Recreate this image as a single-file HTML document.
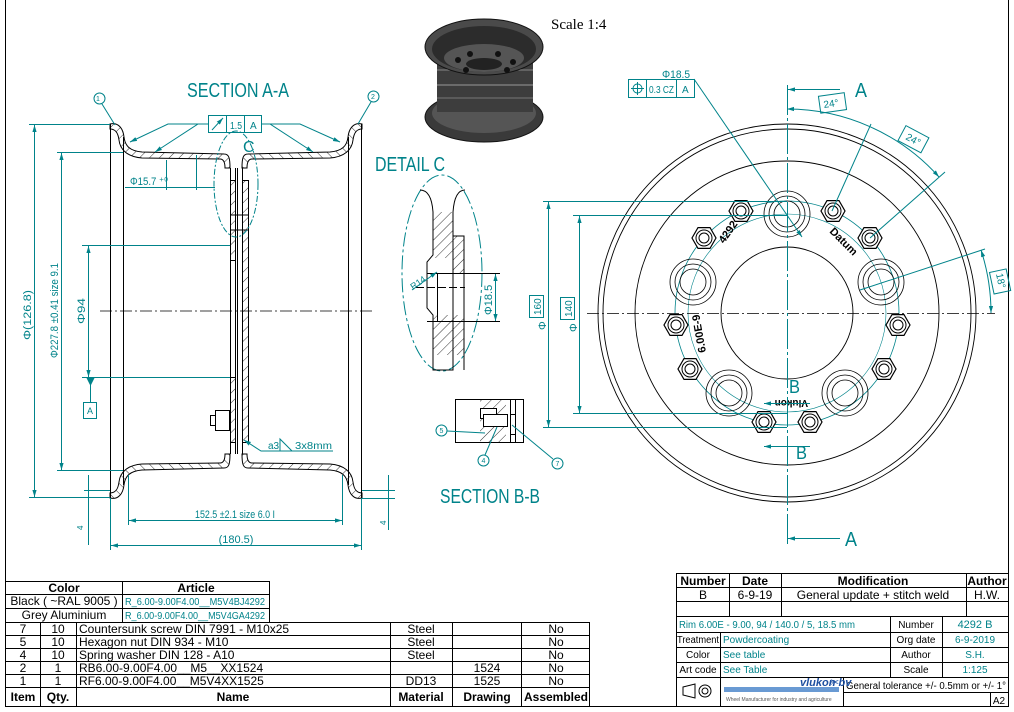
<!DOCTYPE html>
<html><head><meta charset="utf-8"><style>
html,body{margin:0;padding:0;background:#fff;}
svg{display:block;font-family:"Liberation Sans",sans-serif;}
.t{fill:#00838a;}
.tl{stroke:#00838a;fill:none;stroke-width:1;}
.bl{stroke:#000;fill:none;stroke-width:1;}
.cell{font-size:12px;fill:#000;}
</style></head><body>
<svg width="1014" height="712" viewBox="0 0 1014 712" xmlns="http://www.w3.org/2000/svg">
<defs>
<pattern id="h" width="7" height="7" patternUnits="userSpaceOnUse" patternTransform="rotate(45)">
<line x1="0" y1="0" x2="0" y2="7" stroke="#000" stroke-width="0.8"/></pattern>
<marker id="ar" viewBox="0 0 10 10" refX="10" refY="5" markerWidth="7" markerHeight="7" orient="auto-start-reverse"><path d="M0,2 L10,5 L0,8 Z" fill="#00838a"/></marker>
</defs>
<rect x="0" y="0" width="1014" height="712" fill="#fff"/>
<!-- frame -->
<line x1="5.5" y1="0" x2="5.5" y2="706" stroke="#000"/>
<line x1="1008.5" y1="0" x2="1008.5" y2="706" stroke="#000"/>
<line x1="5" y1="706.5" x2="1009" y2="706.5" stroke="#000"/>

<text x="551" y="29" font-family="Liberation Serif,serif" font-size="15">Scale 1:4</text>

<!-- 3D wheel -->
<g>
<ellipse cx="484" cy="117" rx="59" ry="25" fill="#3a3a3a" stroke="#111"/>
<ellipse cx="484" cy="113" rx="52" ry="20" fill="#555"/>
<rect x="437" y="48" width="96" height="64" fill="#3d3d3d"/>
<line x1="437" y1="70" x2="533" y2="70" stroke="#888"/>
<line x1="437" y1="85" x2="533" y2="85" stroke="#999"/>
<line x1="437" y1="98" x2="533" y2="98" stroke="#777"/>
<ellipse cx="484" cy="47" rx="59" ry="28" fill="#4a4a4a" stroke="#111"/>
<ellipse cx="484" cy="49" rx="52" ry="23" fill="#2c2c2c"/>
<ellipse cx="484" cy="58" rx="40" ry="14" fill="#555"/>
<ellipse cx="484" cy="64" rx="18" ry="6" fill="#222"/>
<circle cx="458" cy="60" r="3" fill="#111"/><circle cx="470" cy="54" r="3" fill="#111"/><circle cx="498" cy="54" r="3" fill="#111"/><circle cx="513" cy="62" r="3" fill="#111"/><circle cx="466" cy="70" r="3" fill="#111"/><circle cx="507" cy="70" r="3" fill="#111"/>
</g>

<!-- SECTION A-A -->
<text class="t" x="187" y="97" font-size="20" textLength="102" lengthAdjust="spacingAndGlyphs">SECTION A-A</text>
<g id="rimq">
<path d="M110,124 C118,122 123,128 124,137 C125,146 130,151 142,152 L224,154 C229,154 230,158 230,168 L225,168 C225,162 223,159 220,159 L142,158 C128,157 120,150 119,140 C118,132 115,129 110,129 Z" fill="url(#h)" stroke="#000"/>
</g>
<use href="#rimq" transform="translate(472,0) scale(-1,1)"/>
<use href="#rimq" transform="translate(0,622) scale(1,-1)"/>
<use href="#rimq" transform="translate(472,622) scale(-1,-1)"/>
<g class="bl">
<line x1="110.5" y1="124" x2="110.5" y2="498"/>
<line x1="123.5" y1="137" x2="123.5" y2="485"/>
<line x1="361.5" y1="124" x2="361.5" y2="498"/>
<line x1="348.5" y1="137" x2="348.5" y2="485"/>
<line x1="230.5" y1="168" x2="230.5" y2="454"/>
<line x1="235.5" y1="168" x2="235.5" y2="454"/>
<line x1="237.5" y1="168" x2="237.5" y2="454"/>
<line x1="242.5" y1="168" x2="242.5" y2="454"/>
</g>
<rect x="242.5" y="180.5" width="6" height="262" fill="url(#h)" stroke="#000"/>
<rect x="230.5" y="180.5" width="5" height="80" fill="url(#h)" stroke="#000"/>
<rect x="230.5" y="377.5" width="5" height="65" fill="url(#h)" stroke="#000"/>
<line x1="230" y1="215" x2="248" y2="215" stroke="#000"/>
<line x1="230" y1="230" x2="248" y2="230" stroke="#000"/>
<line x1="100" y1="311" x2="372" y2="311" stroke="#000" stroke-dasharray="12,3,2,3" stroke-width="0.8"/>
<!-- bolt -->
<rect x="215.5" y="410.5" width="14" height="20" fill="#fff" stroke="#000"/>
<rect x="210.5" y="415.5" width="5" height="10" fill="#fff" stroke="#000"/>
<!-- detail C ellipse -->
<ellipse cx="236" cy="184" rx="22" ry="53" fill="none" stroke="#00838a" stroke-dasharray="6,2,2,2"/>
<text class="t" x="243" y="152" font-size="16">C</text>
<!-- dims left -->
<g class="tl">
<line x1="29" y1="124.5" x2="110" y2="124.5"/>
<line x1="29" y1="497.5" x2="110" y2="497.5"/>
<line x1="34.5" y1="125" x2="34.5" y2="497" marker-start="url(#ar)" marker-end="url(#ar)"/>
<line x1="57" y1="152.5" x2="123" y2="152.5"/>
<line x1="57" y1="470.5" x2="123" y2="470.5"/>
<line x1="61.5" y1="153" x2="61.5" y2="470" marker-start="url(#ar)" marker-end="url(#ar)"/>
<line x1="82" y1="245.5" x2="230" y2="245.5"/>
<line x1="82" y1="377.5" x2="230" y2="377.5"/>
<line x1="88.5" y1="246" x2="88.5" y2="377" marker-start="url(#ar)" marker-end="url(#ar)"/>
<line x1="90.5" y1="377" x2="90.5" y2="402"/>
<rect x="83.5" y="402.5" width="13" height="16"/>
<line x1="128.5" y1="475" x2="128.5" y2="525"/>
<line x1="342.5" y1="475" x2="342.5" y2="525"/>
<line x1="129" y1="520.5" x2="342" y2="520.5" marker-start="url(#ar)" marker-end="url(#ar)"/>
<line x1="110.5" y1="498" x2="110.5" y2="550"/>
<line x1="361.5" y1="498" x2="361.5" y2="550"/>
<line x1="111" y1="545.5" x2="361" y2="545.5" marker-start="url(#ar)" marker-end="url(#ar)"/>
<line x1="88.5" y1="475" x2="88.5" y2="545"/>
<line x1="84" y1="490.5" x2="110" y2="490.5"/>
<line x1="388.5" y1="475" x2="388.5" y2="530"/>
<line x1="362" y1="490.5" x2="395" y2="490.5"/>
<line x1="362" y1="498.5" x2="395" y2="498.5"/>
<line x1="125" y1="187.5" x2="206" y2="187.5"/>
<line x1="166.5" y1="160" x2="166.5" y2="190"/>
<line x1="196.5" y1="155" x2="196.5" y2="190"/>
<line x1="206" y1="187.5" x2="215" y2="187.5"/>
<rect x="208.5" y="115.5" width="53" height="17"/>
<line x1="226.5" y1="115" x2="226.5" y2="132"/>
<line x1="244.5" y1="115" x2="244.5" y2="132"/>
<line x1="212" y1="130" x2="223" y2="118" marker-end="url(#ar)"/>
<polyline points="208,124 168,124 130,142" marker-end="url(#ar)"/>
<polyline points="208,124 198,124 155,152" marker-end="url(#ar)"/>
<polyline points="261,124 270,124 313,152" marker-end="url(#ar)"/>
<polyline points="261,124 300,124 340,142" marker-end="url(#ar)"/>
<circle cx="99.5" cy="98.5" r="5.5"/>
<line x1="102" y1="104" x2="115" y2="125"/>
<circle cx="373.5" cy="96.5" r="5.5"/>
<line x1="371" y1="102" x2="358" y2="124"/>
<polyline points="333,451 261,451 244,440" marker-end="url(#ar)"/>
<polyline points="280,451 280,439 292,451"/>
</g>
<polygon points="86,377 95,377 90.5,386" fill="#00838a"/>
<text class="t" x="90" y="414" font-size="9" text-anchor="middle">A</text>
<text class="t" font-size="11" transform="translate(31,340) rotate(-90)" textLength="50" lengthAdjust="spacingAndGlyphs">Φ(126.8)</text>
<text class="t" font-size="11" transform="translate(58,358) rotate(-90)" textLength="95" lengthAdjust="spacingAndGlyphs">Φ227.8 ±0.41 size 9.1</text>
<text class="t" font-size="11" transform="translate(85,324) rotate(-90)" textLength="26" lengthAdjust="spacingAndGlyphs">Φ94</text>
<text class="t" x="130" y="185" font-size="11" textLength="38" lengthAdjust="spacingAndGlyphs">Φ15.7 ⁺⁰</text>
<text class="t" x="230" y="129" font-size="10" textLength="12" lengthAdjust="spacingAndGlyphs">1.5</text>
<text class="t" x="250" y="129" font-size="10">A</text>
<text class="t" x="195" y="518" font-size="11" textLength="80" lengthAdjust="spacingAndGlyphs">152.5 ±2.1 size 6.0 I</text>
<text class="t" x="236" y="543" font-size="11" text-anchor="middle">(180.5)</text>
<text class="t" x="98" y="101" font-size="7" text-anchor="middle">1</text>
<text class="t" x="373" y="99" font-size="7" text-anchor="middle">2</text>
<text class="t" x="268" y="449" font-size="10">a3</text>
<text class="t" x="295" y="449" font-size="10" textLength="37" lengthAdjust="spacingAndGlyphs">3x8mm</text>
<text class="t" font-size="8" transform="translate(83,530) rotate(-90)">4</text>
<text class="t" font-size="8" transform="translate(386,525) rotate(-90)">4</text>

<!-- DETAIL C -->
<text class="t" x="375" y="171" font-size="20" textLength="70" lengthAdjust="spacingAndGlyphs">DETAIL C</text>
<ellipse cx="442" cy="273" rx="40" ry="98" fill="none" stroke="#00838a" stroke-dasharray="14,3,3,3"/>
<path d="M420,190 C428,190 432,198 433,212 L433,255 L427,262 L427,308 L433,315 L433,370 L453,370 L453,236 L464,236 L464,370" fill="none" stroke="#000"/>
<path d="M465,190 C458,190 454,198 453,212 L453,370" fill="none" stroke="#000"/>
<rect x="433.5" y="212" width="20" height="46" fill="url(#h)"/>
<rect x="433.5" y="315" width="30" height="40" fill="url(#h)"/>
<rect x="453.5" y="236" width="10" height="37" fill="url(#h)"/>
<line x1="437.5" y1="273" x2="437.5" y2="321" stroke="#000"/>
<line x1="427" y1="273.5" x2="500" y2="273.5" stroke="#000"/>
<line x1="427" y1="321.5" x2="500" y2="321.5" stroke="#000"/>
<line x1="416" y1="287.5" x2="465" y2="287.5" stroke="#000" stroke-dasharray="8,3"/>
<line class="tl" x1="495.5" y1="274" x2="495.5" y2="321" marker-start="url(#ar)" marker-end="url(#ar)"/>
<line class="tl" x1="412" y1="290" x2="437" y2="272" marker-end="url(#ar)"/>
<text class="t" font-size="9" transform="translate(413,290) rotate(-35)">R14</text>
<text class="t" font-size="11" transform="translate(492,315) rotate(-90)">Φ18.5</text>

<!-- SECTION B-B -->
<rect x="455.5" y="399.5" width="68" height="43" fill="none" stroke="#000"/>
<rect x="480" y="400" width="26" height="42" fill="url(#h)"/>
<rect x="480.5" y="408.5" width="16" height="10" fill="#fff" stroke="#000"/>
<rect x="483.5" y="414.5" width="24" height="12" fill="#fff" stroke="#000"/>
<line x1="510.5" y1="400" x2="510.5" y2="442" stroke="#000"/>
<line x1="515.5" y1="400" x2="515.5" y2="442" stroke="#000"/>
<rect x="510.5" y="414.5" width="5" height="20" fill="#fff" stroke="#000"/>
<g class="tl">
<circle cx="441.5" cy="430.5" r="5.5"/><line x1="447" y1="431" x2="485" y2="433"/>
<circle cx="483.5" cy="460.5" r="5.5"/><line x1="485" y1="455" x2="497" y2="427"/>
<circle cx="557.5" cy="463.5" r="5.5"/><line x1="553" y1="459" x2="512" y2="425"/>
</g>
<text class="t" x="441.5" y="433" font-size="7" text-anchor="middle">5</text>
<text class="t" x="483.5" y="463" font-size="7" text-anchor="middle">4</text>
<text class="t" x="557.5" y="466" font-size="7" text-anchor="middle">7</text>
<text class="t" x="440" y="503" font-size="20" textLength="100" lengthAdjust="spacingAndGlyphs">SECTION B-B</text>

<!-- FRONT VIEW -->
<g fill="none" stroke="#000" stroke-width="0.9">
<circle cx="787" cy="313" r="189"/>
<circle cx="787" cy="313" r="184"/>
<circle cx="787" cy="313" r="152"/>
<circle cx="787" cy="313" r="66"/>
</g>
<circle cx="787" cy="313" r="112" fill="none" stroke="#00838a" stroke-width="0.8"/>
<circle cx="787" cy="313" r="99" fill="none" stroke="#00838a" stroke-width="0.6"/>
<g id="bigholes" fill="none" stroke="#000" stroke-width="0.8">
<g transform="translate(787,214)"><circle r="23"/><circle r="18"/><circle r="13"/></g>
<g transform="translate(881,282)"><circle r="23"/><circle r="18"/><circle r="13"/></g>
<g transform="translate(845,393)"><circle r="23"/><circle r="18"/><circle r="13"/></g>
<g transform="translate(729,393)"><circle r="23"/><circle r="18"/><circle r="13"/></g>
<g transform="translate(693,282)"><circle r="23"/><circle r="18"/><circle r="13"/></g>
</g>
<g stroke="#000" fill="#fff">
<g transform="translate(833,211)"><polygon points="12,0 6,10.4 -6,10.4 -12,0 -6,-10.4 6,-10.4" stroke-width="1.2"/><circle r="8"/><circle r="5"/></g>
<g transform="translate(741,211)"><polygon points="12,0 6,10.4 -6,10.4 -12,0 -6,-10.4 6,-10.4" stroke-width="1.2"/><circle r="8"/><circle r="5"/></g>
<g transform="translate(870,238)"><polygon points="12,0 6,10.4 -6,10.4 -12,0 -6,-10.4 6,-10.4" stroke-width="1.2"/><circle r="8"/><circle r="5"/></g>
<g transform="translate(704,238)"><polygon points="12,0 6,10.4 -6,10.4 -12,0 -6,-10.4 6,-10.4" stroke-width="1.2"/><circle r="8"/><circle r="5"/></g>
<g transform="translate(898,325)"><polygon points="12,0 6,10.4 -6,10.4 -12,0 -6,-10.4 6,-10.4" stroke-width="1.2"/><circle r="8"/><circle r="5"/></g>
<g transform="translate(676,325)"><polygon points="12,0 6,10.4 -6,10.4 -12,0 -6,-10.4 6,-10.4" stroke-width="1.2"/><circle r="8"/><circle r="5"/></g>
<g transform="translate(884,369)"><polygon points="12,0 6,10.4 -6,10.4 -12,0 -6,-10.4 6,-10.4" stroke-width="1.2"/><circle r="8"/><circle r="5"/></g>
<g transform="translate(690,369)"><polygon points="12,0 6,10.4 -6,10.4 -12,0 -6,-10.4 6,-10.4" stroke-width="1.2"/><circle r="8"/><circle r="5"/></g>
<g transform="translate(810,422)"><polygon points="12,0 6,10.4 -6,10.4 -12,0 -6,-10.4 6,-10.4" stroke-width="1.2"/><circle r="8"/><circle r="5"/></g>
<g transform="translate(764,422)"><polygon points="12,0 6,10.4 -6,10.4 -12,0 -6,-10.4 6,-10.4" stroke-width="1.2"/><circle r="8"/><circle r="5"/></g>
</g>
<text font-size="11" font-weight="bold" transform="translate(724,244) rotate(-55)">4292</text>
<text font-size="11" font-weight="bold" transform="translate(829,232) rotate(45)">Datum</text>
<text font-size="11" font-weight="bold" transform="translate(706,352) rotate(-100)">6.00E-9</text>
<text font-size="10" font-weight="bold" transform="translate(808,400) rotate(180)">Vlukon</text>
<line x1="587" y1="313.5" x2="995" y2="313.5" stroke="#000" stroke-dasharray="12,3,2,3" stroke-width="0.8"/>
<line x1="787.5" y1="85" x2="787.5" y2="545" stroke="#00838a" stroke-dasharray="30,3,3,3"/>
<g class="tl">
<line x1="840" y1="89.5" x2="788" y2="89.5" marker-end="url(#ar)"/>
<line x1="840" y1="538.5" x2="788" y2="538.5" marker-end="url(#ar)"/>
<line x1="810" y1="403.5" x2="764" y2="403.5" marker-end="url(#ar)"/>
<line x1="810" y1="446.5" x2="764" y2="446.5" marker-end="url(#ar)"/>
<line x1="543" y1="201.5" x2="787" y2="201.5"/>
<line x1="543" y1="427.5" x2="787" y2="427.5"/>
<line x1="548.5" y1="202" x2="548.5" y2="427" marker-start="url(#ar)" marker-end="url(#ar)"/>
<line x1="573" y1="215.5" x2="787" y2="215.5"/>
<line x1="573" y1="413.5" x2="787" y2="413.5"/>
<line x1="579.5" y1="216" x2="579.5" y2="413" marker-start="url(#ar)" marker-end="url(#ar)"/>
<rect x="529.5" y="295.5" width="14" height="22"/>
<rect x="560.5" y="297.5" width="14" height="22"/>
<path d="M787,109 A204,204 0 0 1 939,177" marker-start="url(#ar)" marker-end="url(#ar)"/>
<line x1="832" y1="211" x2="871" y2="124"/>
<line x1="870" y1="238" x2="945" y2="172"/>
<path d="M981,250 A204,204 0 0 1 991,313" marker-start="url(#ar)" marker-end="url(#ar)"/>
<line x1="860" y1="290" x2="985" y2="249"/>
<rect x="628.5" y="79.5" width="66" height="18"/>
<line x1="646.5" y1="79" x2="646.5" y2="97"/>
<line x1="676.5" y1="79" x2="676.5" y2="97"/>
<circle cx="637.5" cy="88.5" r="4.5"/><line x1="631" y1="88.5" x2="644" y2="88.5"/><line x1="637.5" y1="82" x2="637.5" y2="95"/>
<line x1="694" y1="79" x2="802" y2="237" marker-end="url(#ar)"/>
<rect x="819.5" y="94.5" width="26" height="17" transform="rotate(-8,832,103)"/>
<rect x="900.5" y="130.5" width="26" height="17" transform="rotate(28,913,139)"/>
<rect x="991.5" y="270.5" width="17" height="22" transform="rotate(-12,1000,281)"/>
</g>
<text class="t" x="855" y="97" font-size="20" textLength="12" lengthAdjust="spacingAndGlyphs">A</text>
<text class="t" x="845" y="546" font-size="20" textLength="12" lengthAdjust="spacingAndGlyphs">A</text>
<text class="t" x="789" y="393" font-size="18" textLength="11" lengthAdjust="spacingAndGlyphs">B</text>
<text class="t" x="796" y="459" font-size="18" textLength="11" lengthAdjust="spacingAndGlyphs">B</text>
<text class="t" x="662" y="78" font-size="11" textLength="28" lengthAdjust="spacingAndGlyphs">Φ18.5</text>
<text class="t" x="649" y="93" font-size="10" textLength="25" lengthAdjust="spacingAndGlyphs">0.3 CZ</text>
<text class="t" x="682" y="93" font-size="10">A</text>
<text class="t" font-size="10" transform="translate(824,108) rotate(-8)">24°</text>
<text class="t" font-size="10" transform="translate(905,139) rotate(28)">24°</text>
<text class="t" font-size="10" transform="translate(996,274) rotate(78)">18°</text>
<text class="t" font-size="10" transform="translate(541,315) rotate(-90)">160</text>
<text class="t" font-size="10" transform="translate(572,317) rotate(-90)">140</text>
<text class="t" font-size="11" transform="translate(546,330) rotate(-90)">Φ</text>
<text class="t" font-size="11" transform="translate(577,332) rotate(-90)">Φ</text>

<!-- LEFT TABLE -->
<g stroke="#000" fill="none" stroke-width="1">
<rect x="5.5" y="581.5" width="264" height="41"/>
<line x1="5" y1="594.5" x2="270" y2="594.5"/>
<line x1="5" y1="608.5" x2="270" y2="608.5"/>
<line x1="122.5" y1="581" x2="122.5" y2="622"/>
<rect x="5.5" y="622.5" width="584" height="84"/>
<line x1="5" y1="635.5" x2="590" y2="635.5"/>
<line x1="5" y1="648.5" x2="590" y2="648.5"/>
<line x1="5" y1="661.5" x2="590" y2="661.5"/>
<line x1="5" y1="674.5" x2="590" y2="674.5"/>
<line x1="5" y1="687.5" x2="590" y2="687.5"/>
<line x1="40.5" y1="622" x2="40.5" y2="706"/>
<line x1="76.5" y1="622" x2="76.5" y2="706"/>
<line x1="390.5" y1="622" x2="390.5" y2="706"/>
<line x1="452.5" y1="622" x2="452.5" y2="706"/>
<line x1="521.5" y1="622" x2="521.5" y2="706"/>
</g>
<g class="cell" text-anchor="middle">
<text x="64" y="592" font-weight="bold">Color</text>
<text x="196" y="592" font-weight="bold">Article</text>
<text x="64" y="605">Black ( ~RAL 9005 )</text>
<text x="64" y="619">Grey Aluminium</text>
<text x="23" y="633">7</text><text x="58" y="633">10</text>
<text x="23" y="646">5</text><text x="58" y="646">10</text>
<text x="23" y="659">4</text><text x="58" y="659">10</text>
<text x="23" y="672">2</text><text x="58" y="672">1</text>
<text x="23" y="685">1</text><text x="58" y="685">1</text>
<text x="421" y="633">Steel</text><text x="421" y="646">Steel</text><text x="421" y="659">Steel</text><text x="421" y="685">DD13</text>
<text x="487" y="672">1524</text><text x="487" y="685">1525</text>
<text x="556" y="633">No</text><text x="556" y="646">No</text><text x="556" y="659">No</text><text x="556" y="672">No</text><text x="556" y="685">No</text>
<text x="23" y="701" font-weight="bold">Item</text>
<text x="58" y="701" font-weight="bold">Qty.</text>
<text x="233" y="701" font-weight="bold">Name</text>
<text x="421" y="701" font-weight="bold">Material</text>
<text x="487" y="701" font-weight="bold">Drawing</text>
<text x="556" y="701" font-weight="bold">Assembled</text>
</g>
<g class="cell">
<text x="79" y="633">Countersunk screw DIN 7991 - M10x25</text>
<text x="79" y="646">Hexagon nut DIN 934 - M10</text>
<text x="79" y="659">Spring washer DIN 128 - A10</text>
<text x="79" y="672">RB6.00-9.00F4.00__M5__XX1524</text>
<text x="79" y="685">RF6.00-9.00F4.00__M5V4XX1525</text>
</g>
<text class="t" x="125" y="605" font-size="10" textLength="140" lengthAdjust="spacingAndGlyphs">R_6.00-9.00F4.00__M5V4BJ4292</text>
<text class="t" x="125" y="619" font-size="10" textLength="140" lengthAdjust="spacingAndGlyphs">R_6.00-9.00F4.00__M5V4GA4292</text>

<!-- TITLE BLOCK -->
<g stroke="#000" fill="none">
<rect x="676.5" y="573.5" width="332" height="133"/>
<line x1="676" y1="587.5" x2="1009" y2="587.5"/>
<line x1="676" y1="601.5" x2="1009" y2="601.5"/>
<line x1="676" y1="616.5" x2="1009" y2="616.5"/>
<line x1="676" y1="632.5" x2="1009" y2="632.5"/>
<line x1="676" y1="647.5" x2="1009" y2="647.5"/>
<line x1="676" y1="662.5" x2="1009" y2="662.5"/>
<line x1="676" y1="677.5" x2="1009" y2="677.5"/>
<line x1="729.5" y1="573" x2="729.5" y2="616"/>
<line x1="781.5" y1="573" x2="781.5" y2="616"/>
<line x1="966.5" y1="573" x2="966.5" y2="616"/>
<line x1="890.5" y1="616" x2="890.5" y2="677"/>
<line x1="942.5" y1="616" x2="942.5" y2="677"/>
<line x1="720.5" y1="632" x2="720.5" y2="706"/>
<line x1="843.5" y1="677" x2="843.5" y2="706"/>
<line x1="843" y1="692.5" x2="1009" y2="692.5"/>
<line x1="990.5" y1="692" x2="990.5" y2="706"/>
<path d="M683,687 L695,684 L695,698 L683,695 Z"/>
<circle cx="705" cy="691" r="6"/><circle cx="705" cy="691" r="3"/>
</g>
<g class="cell" text-anchor="middle">
<text x="703" y="585" font-weight="bold">Number</text>
<text x="755" y="585" font-weight="bold">Date</text>
<text x="873" y="585" font-weight="bold">Modification</text>
<text x="987" y="585" font-weight="bold">Author</text>
<text x="703" y="599">B</text>
<text x="755" y="599">6-9-19</text>
<text x="873" y="599">General update + stitch weld</text>
<text x="987" y="599">H.W.</text>
</g>
<g font-size="10" text-anchor="middle">
<text x="916" y="628">Number</text>
<text x="916" y="643">Org date</text>
<text x="916" y="658">Author</text>
<text x="916" y="673">Scale</text>
<text x="698" y="643" textLength="42" lengthAdjust="spacingAndGlyphs">Treatment</text>
<text x="698" y="658">Color</text>
<text x="698" y="673">Art code</text>
<text x="999" y="704">A2</text>
</g>
<g class="t" font-size="10">
<text x="679" y="628" textLength="176" lengthAdjust="spacingAndGlyphs">Rim 6.00E - 9.00, 94 / 140.0 / 5, 18.5 mm</text>
<text x="723" y="643">Powdercoating</text>
<text x="723" y="658">See table</text>
<text x="723" y="673">See Table</text>
<text x="975" y="628" text-anchor="middle" font-size="11">4292 B</text>
<text x="975" y="643" text-anchor="middle">6-9-2019</text>
<text x="975" y="658" text-anchor="middle">S.H.</text>
<text x="975" y="673" text-anchor="middle">1:125</text>
</g>
<text x="846" y="689" font-size="10" textLength="160" lengthAdjust="spacingAndGlyphs">General tolerance +/- 0.5mm or +/- 1°</text>
<rect x="724" y="687" width="115" height="5" fill="#2a6fc0" opacity="0.7"/>
<text x="800" y="686" font-size="11" font-style="italic" font-weight="bold" fill="#1d4fa0">vlukon bv</text>
<text x="830" y="686" font-size="11" fill="#1d4fa0">✂</text>
<text x="726" y="701" font-size="5" fill="#555">Wheel Manufacturer for industry and agriculture</text>
</svg>
</body></html>
